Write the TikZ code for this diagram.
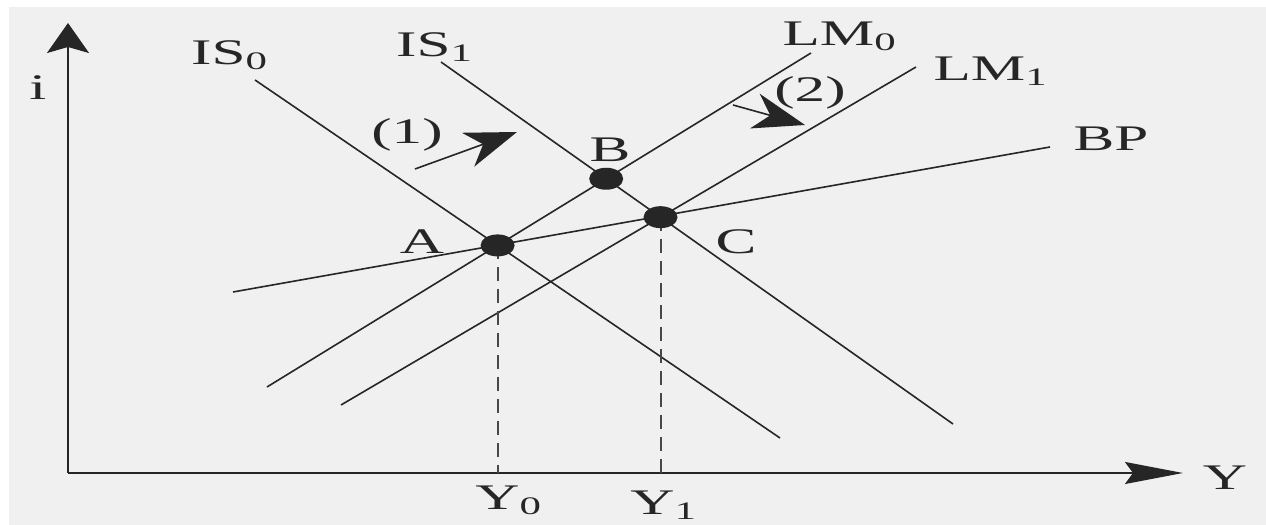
\documentclass[tikz,border=0pt]{standalone}
\usepackage{fontspec}
\setmainfont{Liberation Serif}
\usetikzlibrary{arrows.meta}
\definecolor{ink}{HTML}{262626}
\definecolor{paper}{HTML}{F0F0F0}

\begin{document}
\begin{tikzpicture}[
  x=0.5pt, y=0.5pt,
  curve/.style={draw=ink, line width=0.8pt},
  axisline/.style={draw=ink, line width=1pt},
  drop/.style={draw=ink!85, line width=1pt, dash pattern=on 7pt off 4pt},
  lbl/.style={font=\fontsize{18}{20}\selectfont, text=ink, xscale=1.7, inner sep=0pt},
  move/.style={-{Stealth[length=26pt,width=18pt,inset=8pt]}, draw=ink, line width=0.8pt},
  eqpt/.style={fill=ink},
]
\fill[white] (0,0) rectangle (1266,525);
\fill[paper] (9,0) rectangle (1266,518);
\useasboundingbox (0,0) rectangle (1266,525);

% axes
\coordinate (O) at (68,52);
\coordinate (itop) at (68,502);
\coordinate (yend) at (1183,52);
\draw[axisline, -{Stealth[length=15pt,width=21pt,inset=3pt]}] (O) -- (itop);
\draw[axisline, -{Stealth[length=29pt,width=11pt,inset=4pt]}] (O) -- (yend);
\node[lbl] (ilab) at (38,437) {i};
\node[lbl] (ylab) at (1225,47) {Y};

% curves
\coordinate (is0a) at (255,445); \coordinate (is0b) at (780,87);
\coordinate (is1a) at (441,463); \coordinate (is1b) at (953,101);
\coordinate (lm0a) at (267,138); \coordinate (lm0b) at (811,472);
\coordinate (lm1a) at (341,120); \coordinate (lm1b) at (916,458);
\coordinate (bpa) at (233,233);  \coordinate (bpb) at (1050,378);
\draw[curve] (is0a) -- (is0b);
\draw[curve] (is1a) -- (is1b);
\draw[curve] (lm0a) -- (lm0b);
\draw[curve] (lm1a) -- (lm1b);
\draw[curve] (bpa) -- (bpb);

\node[lbl] (is0) at (230,470) {IS\textsubscript{0}};
\node[lbl] (is1) at (435,478) {IS\textsubscript{1}};
\node[lbl] (lm0) at (840,489) {LM\textsubscript{0}};
\node[lbl] (lm1) at (991,454) {LM\textsubscript{1}};
\node[lbl] (bp) at (1111,386) {BP};

% equilibria
\coordinate (A) at (intersection of is0a--is0b and lm0a--lm0b);
\coordinate (B) at (intersection of is1a--is1b and lm0a--lm0b);
\coordinate (C) at (intersection of is1a--is1b and lm1a--lm1b);
\draw[drop] (A) -- (A |- O);
\draw[drop] (C) -- (C |- O);
\fill[eqpt] (A) ellipse [x radius=8.5pt, y radius=5.5pt];
\fill[eqpt] (B) ellipse [x radius=8.5pt, y radius=5.5pt];
\fill[eqpt] (C) ellipse [x radius=8.5pt, y radius=5.5pt];
\node[lbl] (alab) at (422,283) {A};
\node[lbl] (blab) at (610,375) {B};
\node[lbl] (clab) at (736,283) {C};
\node[lbl] (y0) at (509,25) {Y\textsubscript{0}};
\node[lbl] (y1) at (664,20) {Y\textsubscript{1}};

% shifts
\coordinate (s1) at (415,356); \coordinate (t1) at (517,393);
\coordinate (s2) at (733,420); \coordinate (t2) at (805,400);
\draw[move] (s1) -- (t1);
\draw[move] (s2) -- (t2);
\node[lbl] (one) at (407,390) {(1)};
\node[lbl] (two) at (810,432) {(2)};
\end{tikzpicture}
\end{document}
